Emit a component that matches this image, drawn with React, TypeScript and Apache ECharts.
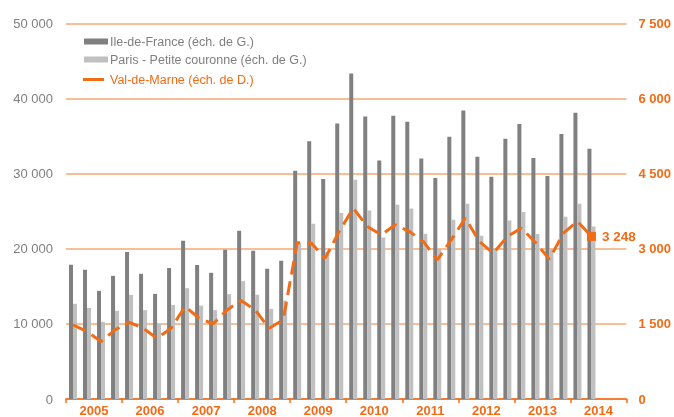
import React, { useEffect, useRef } from "react";
import * as echarts from "echarts";

const years = ["2005", "2006", "2007", "2008", "2009", "2010", "2011", "2012", "2013", "2014"];
const quarters = years.flatMap((y) => ["T1", "T2", "T3", "T4"].map((q) => `${q} ${y}`));

const ileDeFrance: (number | null)[] = [
  17870, 17200, 14400, 16400,
  19560, 16670, 14000, 17430,
  21070, 17830, 16800, 19870,
  22400, 19730, 17330, 18400,
  30400, 34310, 29290, 36670,
  43330, 37600, 31770, 37730,
  36930, 32040, 29430, 34930,
  38400, 32270, 29600, 34670,
  36630, 32090, 29690, 35290,
  38130, 33330, null, null,
];

const parisPC: (number | null)[] = [
  12670, 12130, 10270, 11730,
  13870, 11830, 10000, 12530,
  14760, 12440, 11830, 13960,
  15690, 13870, 12000, 13110,
  20840, 23330, 19600, 24760,
  29200, 25110, 21510, 25870,
  25370, 22000, 19960, 23870,
  26000, 21730, 19900, 23770,
  24890, 21960, 19960, 24270,
  26000, 22970, null, null,
];

const valDeMarne: (number | null)[] = [
  1480, 1347, 1147, 1380,
  1533, 1413, 1213, 1413,
  1847, 1613, 1500, 1780,
  1967, 1780, 1413, 1580,
  3120, 3113, 2813, 3347,
  3813, 3447, 3280, 3480,
  3347, 3147, 2780, 3180,
  3613, 3147, 2913, 3247,
  3413, 3127, 2793, 3313,
  3547, 3248, null, null,
];

const leftTicks = { min: 0, max: 50000, interval: 10000 };
const rightTicks = { min: 0, max: 7500, interval: 1500 };

const ORANGE = "#F26B15";
const GRID = "#F9A873";
const DARK = "#808080";
const LIGHT = "#C0C0C0";
const TEXTGRAY = "#7F7F7F";
const FONT = "'Liberation Sans', Arial, sans-serif";

const fmt = (v: number) => String(v).replace(/\B(?=(\d{3})+(?!\d))/g, " ");

export default function App() {
  const ref = useRef<HTMLDivElement>(null);
  useEffect(() => {
    if (!ref.current) return;
    const chart = echarts.init(ref.current, undefined, { renderer: "svg" });
    const lastIdx = valDeMarne.reduce((acc: number, v, i) => (v != null ? i : acc), 0);
    const lineData = valDeMarne.map((v, i) =>
      i === lastIdx
        ? {
            value: v,
            symbol: "rect",
            symbolSize: 9,
            label: {
              show: true,
              position: "right",
              distance: 6,
              formatter: (p: any) => fmt(p.value),
              color: ORANGE,
              fontSize: 13.5,
              fontWeight: "bold",
              fontFamily: FONT,
            },
          }
        : v
    );
    chart.setOption({
      animation: false,
      textStyle: { fontFamily: FONT },
      grid: { left: 66, right: 46, top: 23.5, bottom: 18, containLabel: false },
      legend: [
        {
          orient: "vertical",
          left: 84,
          top: 35,
          padding: 0,
          itemWidth: 24,
          itemHeight: 6,
          itemGap: 5,
          icon: "rect",
          data: [
            { name: "Ile-de-France (éch. de G.)" },
            { name: "Paris - Petite couronne (éch. de G.)" },
          ],
          textStyle: { color: TEXTGRAY, fontSize: 12.5, fontFamily: FONT, padding: [0, 0, 0, -3] },
          selectedMode: false,
        },
        {
          orient: "vertical",
          left: 83,
          top: 73,
          padding: 0,
          itemWidth: 21,
          itemHeight: 3,
          icon: "rect",
          data: [{ name: "Val-de-Marne (éch. de D.)" }],
          textStyle: { color: ORANGE, fontSize: 12.5, fontFamily: FONT, padding: [0, 0, 0, 1] },
          selectedMode: false,
        },
      ],
      xAxis: [
        {
          type: "category",
          data: quarters,
          show: false,
        },
        {
          type: "category",
          data: years,
          position: "bottom",
          axisLine: { lineStyle: { color: ORANGE, width: 1.5 } },
          axisTick: { show: true, length: 4, lineStyle: { color: ORANGE, width: 1.5 } },
          axisLabel: { color: ORANGE, fontSize: 13, fontWeight: "bold", margin: 5, fontFamily: FONT },
          splitLine: { show: false },
        },
      ],
      yAxis: [
        {
          type: "value",
          ...leftTicks,
          axisLine: { show: false },
          axisTick: { show: false },
          axisLabel: { color: TEXTGRAY, fontSize: 13, margin: 13, formatter: fmt, fontFamily: FONT },
          splitLine: { lineStyle: { color: GRID, width: 1.5 } },
        },
        {
          type: "value",
          ...rightTicks,
          axisLine: { show: false },
          axisTick: { show: false },
          axisLabel: { color: ORANGE, fontSize: 13, margin: 12, formatter: fmt, fontWeight: "bold", fontFamily: FONT },
          splitLine: { show: false },
        },
      ],
      series: [
        {
          name: "Ile-de-France (éch. de G.)",
          type: "bar",
          xAxisIndex: 0,
          yAxisIndex: 0,
          data: ileDeFrance,
          barWidth: 4,
          barGap: "0%",
          itemStyle: { color: DARK },
        },
        {
          name: "Paris - Petite couronne (éch. de G.)",
          type: "bar",
          xAxisIndex: 0,
          yAxisIndex: 0,
          data: parisPC,
          barWidth: 4,
          barGap: "0%",
          itemStyle: { color: LIGHT },
        },
        {
          name: "Val-de-Marne (éch. de D.)",
          type: "line",
          xAxisIndex: 0,
          yAxisIndex: 1,
          data: lineData,
          symbol: "none",
          showSymbol: true,
          connectNulls: false,
          lineStyle: { color: ORANGE, width: 3, type: [14, 7] },
          itemStyle: { color: ORANGE },
          z: 5,
        },
      ],
    });
    return () => chart.dispose();
  }, []);
  return (
    <div
      ref={ref}
      style={{ position: "fixed", left: 0, top: 0, width: 674, height: 417 }}
    />
  );
}
